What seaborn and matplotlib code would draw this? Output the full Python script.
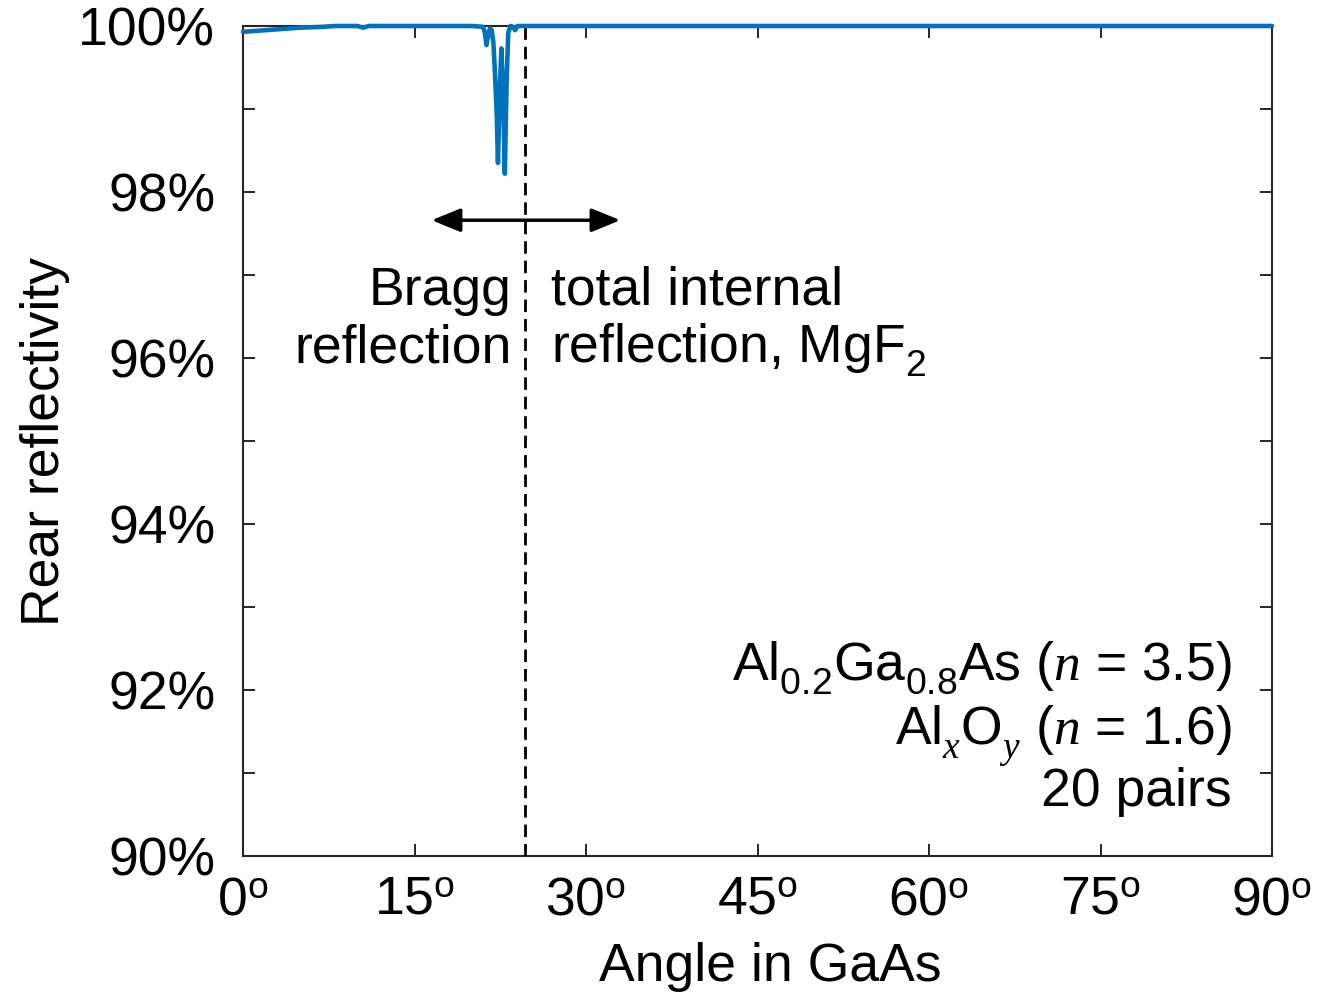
import matplotlib
matplotlib.use("Agg")
import matplotlib.pyplot as plt
import matplotlib._mathtext as mathtext_internals
import seaborn as sns
import pandas as pd
from matplotlib.ticker import MultipleLocator, FuncFormatter

# Rear reflectivity of a 20-pair Al0.2Ga0.8As / AlxOy DBR vs. internal angle
angle_deg = [0, 1, 2, 3, 4, 5, 6, 7, 8, 9, 10, 10.5, 11, 12, 15, 20,
             21.0, 21.15, 21.3, 21.45, 21.6, 21.75, 21.9, 22.05, 22.2, 22.3,
             22.45, 22.6, 22.75, 22.9, 23.05, 23.2, 23.4, 23.6, 23.8, 24.0,
             25, 30, 45, 60, 75, 90]
reflectivity = [99.93, 99.94, 99.95, 99.96, 99.97, 99.98, 99.985, 99.99, 100.0, 100.0, 100.0, 99.98, 100.0, 100.0, 100.0, 100.0,
                99.99, 99.92, 99.77, 99.9, 99.97, 99.95, 99.8, 99.4, 98.9, 98.35,
                99.2, 99.73, 99.2, 98.22, 99.3, 99.92, 100.0, 99.99, 99.95, 100.0,
                100.0, 100.0, 100.0, 100.0, 100.0, 100.0]

critical_angle = 24.7  # TIR at GaAs / MgF2 interface
x_ticks = [0, 15, 30, 45, 60, 75, 90]
y_major = [90, 92, 94, 96, 98, 100]

df = pd.DataFrame({"angle": angle_deg, "R": reflectivity})

FS = 38.5

sns.set_theme(style="ticks")
plt.rcParams.update({
    "font.family": ["Liberation Sans", "DejaVu Sans"],
    "font.size": FS,
    "text.color": "black",
    "axes.labelcolor": "black",
    "xtick.labelcolor": "black",
    "ytick.labelcolor": "black",
    "mathtext.fontset": "custom",
    "mathtext.rm": "Liberation Sans",
    "mathtext.it": "Liberation Serif:italic",
    "mathtext.bf": "Liberation Sans:bold",
    "axes.edgecolor": "#262626",
    "axes.linewidth": 1.5,
})
# deeper subscripts for chemical formulas
mathtext_internals.FontConstantsBase.sub1 = 0.6
mathtext_internals.FontConstantsBase.sub2 = 0.7

fig = plt.figure(figsize=(13.28, 9.96), dpi=100)
ax = fig.add_axes([243 / 1328, 1 - 856 / 996, (1272 - 243) / 1328, (856 - 26) / 996])

sns.lineplot(data=df, x="angle", y="R", ax=ax, color="#0072BD", linewidth=3.3,
             clip_on=False, zorder=5)

ax.axvline(critical_angle, color="black", linestyle=(0, (4.5, 2.5)), linewidth=2.0, zorder=4)

ax.set_xlim(0, 90)
ax.set_ylim(90, 100)
ax.set_xticks(x_ticks)
ax.xaxis.set_major_formatter(FuncFormatter(lambda v, p: f"{v:.0f}$^{{\\mathrm{{o}}}}$"))
ax.set_yticks(y_major)
ax.yaxis.set_minor_locator(MultipleLocator(1))
ax.yaxis.set_major_formatter(FuncFormatter(lambda v, p: f"{v:.0f}%"))

ax.tick_params(axis="both", which="both", direction="in", top=True, right=True,
               length=8.5, width=1.4, color="#262626", labelsize=FS)
ax.tick_params(axis="x", pad=14)
ax.tick_params(axis="y", pad=20)

ax.set_xlabel("Angle in GaAs", fontsize=FS, labelpad=12)
ax.xaxis.label.set_x(0.512)
ax.set_ylabel("Rear reflectivity", fontsize=FS, labelpad=6)

# Double-headed arrow across the critical angle
ax.annotate("", xy=(16.5, 97.66), xytext=(33.0, 97.66),
            arrowprops=dict(arrowstyle="<|-|>,head_length=1.1,head_width=0.45",
                            color="black", lw=2.5, mutation_scale=16,
                            shrinkA=0, shrinkB=0))

ax.text(23.5, 96.64, "Bragg", ha="right", va="baseline", fontsize=FS)
ax.text(23.5, 95.95, "reflection", ha="right", va="baseline", fontsize=FS)
ax.text(26.9, 96.64, "total internal", ha="left", va="baseline", fontsize=FS)
ax.text(26.9, 95.95, "reflection, MgF$_2$", ha="left", va="baseline", fontsize=FS)

ax.text(86.5, 92.12, r"Al$_{0.2}$Ga$_{0.8}$As ($n$ = 3.5)", ha="right", va="baseline", fontsize=FS)
ax.text(86.5, 91.34, r"Al$_{x}$O$_{y}$ ($n$ = 1.6)", ha="right", va="baseline", fontsize=FS)
ax.text(86.5, 90.60, "20 pairs", ha="right", va="baseline", fontsize=FS)

fig.savefig("out.png", dpi=100)
